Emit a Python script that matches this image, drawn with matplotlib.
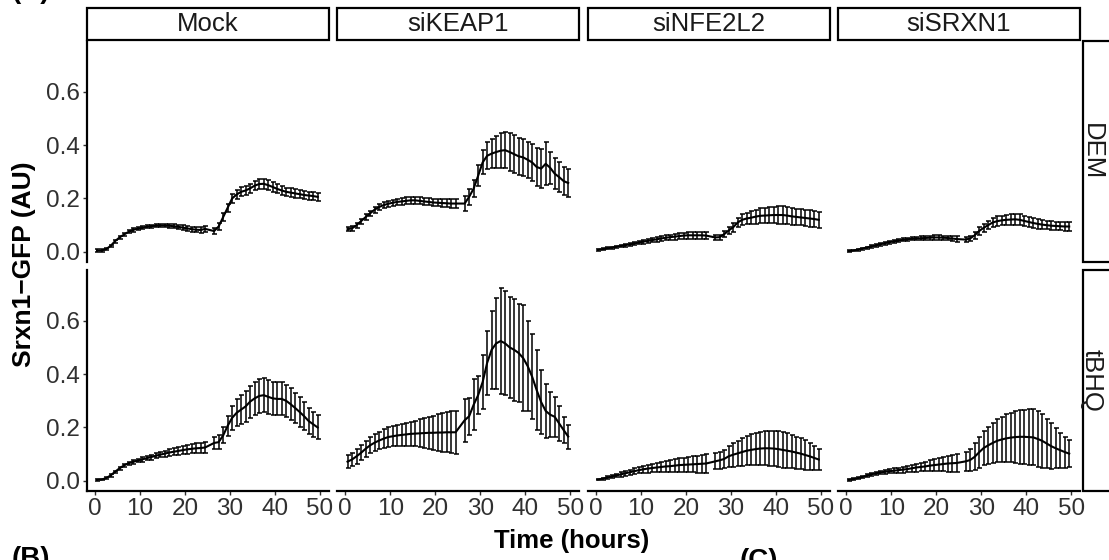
import numpy as np
import matplotlib
matplotlib.use('Agg')
import matplotlib.pyplot as plt
from matplotlib.patches import Rectangle

plt.rcParams['font.family'] = ['Liberation Sans', 'DejaVu Sans']

# time points (hours), no image at 25.5 h (medium change)
time_h = [0.5, 1.5, 2.5, 3.5, 4.5, 5.5, 6.5, 7.5, 8.5, 9.5, 10.5, 11.5, 12.5,
          13.5, 14.5, 15.5, 16.5, 17.5, 18.5, 19.5, 20.5, 21.5, 22.5, 23.5, 24.5,
          26.5, 27.5, 28.5, 29.5, 30.5, 31.5, 32.5, 33.5, 34.5, 35.5, 36.5, 37.5,
          38.5, 39.5, 40.5, 41.5, 42.5, 43.5, 44.5, 45.5, 46.5, 47.5, 48.5, 49.5]

knockdowns = ['Mock', 'siKEAP1', 'siNFE2L2', 'siSRXN1']
treatments = ['DEM', 'tBHQ']

# ---- mean Srxn1-GFP per panel ----
mock_dem = [.005, .005, .010, .022, .040, .054, .065, .075, .082, .087, .090, .094, .096,
            .098, .099, .099, .098, .096, .094, .091, .088, .085, .083, .082, .086,
            .078, .095, .130, .165, .200, .215, .225, .230, .238, .248, .254, .255,
            .250, .243, .236, .230, .225, .222, .219, .216, .213, .211, .209, .206]
mock_dem_sd = [.004, .004, .004, .005, .005, .005, .006, .006, .006, .006, .006, .006, .006,
               .006, .007, .007, .007, .007, .008, .008, .008, .009, .009, .010, .012,
               .012, .012, .014, .016, .016, .017, .017, .018, .018, .018, .018, .018,
               .018, .018, .017, .017, .016, .016, .016, .016, .015, .015, .015, .015]

mock_tbhq = [.004, .005, .010, .020, .034, .047, .058, .066, .071, .076, .080, .085, .089,
             .094, .098, .102, .106, .109, .112, .115, .118, .120, .122, .123, .125,
             .142, .145, .170, .206, .236, .255, .267, .279, .297, .309, .318, .321,
             .315, .309, .307, .307, .300, .287, .273, .258, .242, .224, .212, .200]
mock_tbhq_sd = [.003, .003, .003, .004, .004, .005, .005, .006, .006, .007, .008, .008, .009,
                .010, .010, .011, .012, .013, .014, .015, .016, .017, .018, .020, .021,
                .024, .026, .030, .038, .045, .050, .055, .058, .060, .062, .063, .064,
                .064, .063, .062, .062, .061, .060, .058, .056, .053, .050, .047, .045]

keap1_dem = [.085, .088, .100, .115, .130, .144, .158, .168, .175, .180, .184, .187, .189,
             .191, .193, .193, .191, .189, .187, .185, .184, .183, .182, .181, .181,
             .181, .206, .237, .285, .335, .360, .368, .374, .379, .381, .374, .366,
             .358, .354, .345, .335, .318, .312, .330, .315, .293, .280, .265, .258]
keap1_dem_sd = [.008, .008, .009, .009, .010, .010, .011, .011, .012, .012, .012, .012, .012,
                .013, .013, .013, .013, .013, .013, .014, .014, .014, .015, .016, .018,
                .028, .030, .032, .040, .045, .050, .055, .060, .066, .068, .070, .072,
                .070, .068, .068, .068, .070, .072, .080, .060, .058, .055, .052, .052]

keap1_tbhq = [.072, .080, .092, .105, .120, .133, .143, .151, .158, .164, .167, .170, .172,
              .174, .176, .177, .178, .179, .180, .180, .181, .181, .182, .182, .182,
              .227, .242, .285, .321, .370, .442, .491, .515, .524, .515, .500, .491,
              .479, .460, .430, .390, .340, .295, .262, .248, .240, .215, .190, .166]
keap1_tbhq_sd = [.025, .026, .027, .028, .029, .030, .031, .033, .035, .036, .038, .040, .042,
                 .044, .046, .048, .052, .056, .060, .064, .068, .072, .075, .078, .080,
                 .080, .070, .095, .070, .100, .120, .145, .170, .200, .195, .190, .190,
                 .185, .200, .170, .160, .150, .120, .100, .085, .075, .065, .050, .045]

nfe2l2_dem = [.008, .010, .013, .016, .019, .022, .025, .028, .031, .035, .038, .041, .044,
              .047, .050, .053, .055, .057, .059, .061, .062, .062, .062, .062, .061,
              .054, .055, .066, .080, .092, .110, .120, .125, .128, .132, .135, .136,
              .137, .138, .138, .138, .136, .133, .131, .129, .127, .125, .123, .120]
nfe2l2_dem_sd = [.003, .003, .004, .004, .004, .005, .005, .006, .006, .007, .007, .008, .008,
                 .009, .009, .010, .010, .011, .011, .011, .012, .012, .012, .012, .012,
                 .010, .010, .012, .014, .016, .018, .020, .022, .024, .026, .028, .029,
                 .030, .031, .032, .032, .032, .031, .031, .030, .030, .030, .030, .030]

nfe2l2_tbhq = [.005, .008, .012, .016, .020, .024, .028, .032, .036, .040, .043, .046, .048,
               .050, .052, .054, .055, .057, .059, .060, .061, .062, .063, .064, .065,
               .073, .077, .082, .092, .098, .103, .108, .113, .116, .119, .121, .122,
               .122, .121, .119, .116, .113, .110, .106, .102, .097, .092, .086, .080]
nfe2l2_tbhq_sd = [.003, .004, .005, .006, .007, .008, .009, .010, .011, .012, .014, .015, .016,
                  .018, .019, .021, .022, .024, .025, .027, .028, .030, .032, .034, .036,
                  .030, .032, .035, .040, .045, .048, .052, .055, .058, .060, .062, .064,
                  .066, .067, .067, .066, .065, .063, .060, .058, .055, .050, .045, .040]

srxn1_dem = [.003, .005, .008, .012, .016, .020, .024, .028, .032, .036, .039, .042, .045,
             .047, .049, .050, .051, .052, .053, .054, .054, .053, .052, .050, .048,
             .046, .050, .062, .078, .090, .100, .110, .115, .118, .120, .121, .122,
             .120, .116, .112, .108, .105, .102, .100, .098, .097, .096, .095, .095]
srxn1_dem_sd = [.003, .003, .003, .004, .004, .004, .005, .005, .005, .005, .006, .006, .006,
                .006, .006, .007, .007, .007, .007, .008, .008, .008, .009, .009, .010,
                .010, .010, .012, .014, .015, .016, .017, .018, .018, .019, .019, .020,
                .020, .020, .019, .018, .018, .017, .016, .016, .015, .015, .015, .015]

srxn1_tbhq = [.004, .006, .010, .014, .019, .024, .028, .031, .034, .036, .038, .040, .042,
              .044, .047, .050, .052, .054, .057, .059, .061, .063, .065, .066, .067,
              .073, .078, .090, .107, .123, .133, .142, .150, .155, .159, .162, .164,
              .165, .165, .164, .163, .157, .150, .140, .130, .122, .115, .108, .102]
srxn1_tbhq_sd = [.003, .003, .004, .004, .005, .005, .006, .007, .007, .008, .009, .010, .011,
                 .012, .013, .015, .016, .018, .020, .022, .024, .027, .030, .032, .035,
                 .035, .040, .050, .058, .065, .070, .075, .080, .085, .090, .093, .097,
                 .100, .102, .104, .105, .104, .100, .092, .085, .075, .065, .058, .050]

panels = {
    ('DEM', 'Mock'): (mock_dem, mock_dem_sd),
    ('tBHQ', 'Mock'): (mock_tbhq, mock_tbhq_sd),
    ('DEM', 'siKEAP1'): (keap1_dem, keap1_dem_sd),
    ('tBHQ', 'siKEAP1'): (keap1_tbhq, keap1_tbhq_sd),
    ('DEM', 'siNFE2L2'): (nfe2l2_dem, nfe2l2_dem_sd),
    ('tBHQ', 'siNFE2L2'): (nfe2l2_tbhq, nfe2l2_tbhq_sd),
    ('DEM', 'siSRXN1'): (srxn1_dem, srxn1_dem_sd),
    ('tBHQ', 'siSRXN1'): (srxn1_tbhq, srxn1_tbhq_sd),
}

W, H = 1109, 560
fig = plt.figure(figsize=(W / 100, H / 100), dpi=100)


def fx(px):
    return px / W


def fy(py):
    return 1 - py / H


col_left = [86.5, 337, 587.5, 838]
col_w = 242
row_top = [41, 270]
row_h = 221
tick_col = '#303030'

for r, treat in enumerate(treatments):
    for c, kd in enumerate(knockdowns):
        ax = fig.add_axes([fx(col_left[c]), fy(row_top[r] + row_h), fx(col_w), row_h / H])
        m, s = panels[(treat, kd)]
        ax.errorbar(time_h, m, yerr=s, color='black', lw=1.5, elinewidth=1.1,
                    capsize=1.8, capthick=1.1)
        ax.set_xlim(-1.84, 51.9)
        ax.set_ylim(-0.038, 0.79)
        ax.set_xticks([0, 10, 20, 30, 40, 50])
        ax.set_yticks([0.0, 0.2, 0.4, 0.6])
        ax.set_yticklabels(['0.0', '0.2', '0.4', '0.6'])
        for sp in ['top', 'right']:
            ax.spines[sp].set_visible(False)
        ax.spines['left'].set_visible(c == 0)
        ax.spines['bottom'].set_visible(r == 1)
        ax.spines['left'].set_linewidth(1.6)
        ax.spines['bottom'].set_linewidth(1.6)
        ax.tick_params(axis='both', length=3, width=1.0, color=tick_col,
                       labelsize=17.5, labelcolor=tick_col, pad=2)
        if c != 0:
            ax.tick_params(axis='y', left=False, labelleft=False)
        if r != 1:
            ax.tick_params(axis='x', bottom=False, labelbottom=False)
        ax.patch.set_visible(False)

# column strips
for c, kd in enumerate(knockdowns):
    fig.add_artist(Rectangle((fx(col_left[c]), fy(40)), fx(col_w), 32 / H,
                             transform=fig.transFigure, facecolor='white',
                             edgecolor='black', lw=1.6))
    fig.text(fx(col_left[c] + col_w / 2), fy(24), kd, ha='center', va='center',
             fontsize=18.5, color='#1a1a1a')

# row strips (cut by the right edge)
for r, treat in enumerate(treatments):
    fig.add_artist(Rectangle((fx(1083), fy(row_top[r] + row_h)), fx(40), row_h / H,
                             transform=fig.transFigure, facecolor='white',
                             edgecolor='black', lw=1.6))
    fig.text(fx(1092), fy(row_top[r] + row_h / 2), treat, ha='center', va='center',
             rotation=-90, fontsize=18.5, color='#1a1a1a')

fig.text(fx(572), fy(541), 'Time (hours)', ha='center', va='center',
         fontsize=18.5, fontweight='bold')
fig.text(fx(24), fy(264), 'Srxn1\u2212GFP (AU)', ha='center', va='center',
         rotation=90, fontsize=19, fontweight='bold')

# neighbouring panel letters cut off by the crop
fig.text(fx(12), fy(4), '(A)', ha='left', va='bottom', fontsize=20, fontweight='bold')
fig.text(fx(12), fy(546), '(B)', ha='left', va='top', fontsize=20, fontweight='bold')
fig.text(fx(740), fy(548), '(C)', ha='left', va='top', fontsize=20, fontweight='bold')

fig.savefig('out.png', dpi=100, facecolor='white')
